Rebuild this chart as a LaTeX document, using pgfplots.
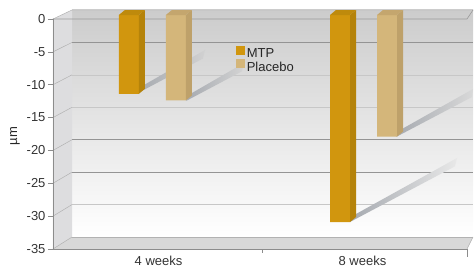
\documentclass[border=0pt]{standalone}
\usepackage{fontspec}
\setmainfont{Liberation Sans}
\usepackage{pgfplots}
\pgfplotsset{compat=1.18}
\definecolor{mtp}{RGB}{209,150,14}
\definecolor{mtpside}{RGB}{181,131,10}
\definecolor{mtptop}{RGB}{190,138,12}
\definecolor{plc}{RGB}{212,182,122}
\definecolor{plcside}{RGB}{190,161,106}
\definecolor{plctop}{RGB}{196,166,110}
\definecolor{sidewall}{RGB}{221,221,223}
\definecolor{floorc}{RGB}{216,216,216}
\definecolor{shad}{RGB}{166,170,176}
\begin{document}
\begin{tikzpicture}
% ---- decorative 3D frame (canvas pt; origin = lower-left of front plot box)
\shade[top color=black!20, bottom color=white] (19pt,12pt) rectangle (420pt,239pt);
\fill[sidewall] (0pt,230pt) -- (19pt,239pt) -- (19pt,12pt) -- (0pt,0pt) -- cycle;
\fill[floorc] (0pt,0pt) -- (19pt,12pt) -- (420pt,12pt) -- (414pt,0pt) -- cycle;
% back grid lines and side diagonals
\foreach \k/\c in {0/22,1/42,2/22,3/22,4/42,5/42,6/22,7/30}{
  \pgfmathsetmacro{\yb}{239-\k*32.43}
  \pgfmathsetmacro{\yf}{230-\k*32.857}
  \draw[black!\c, line width=0.6pt] (19pt,\yb pt) -- (420pt,\yb pt);
  \draw[black!30, line width=0.5pt] (0pt,\yf pt) -- (19pt,\yb pt);
}
\draw[black!40, line width=0.6pt] (0pt,230pt) -- (414pt,230pt) -- (420pt,239pt);
\draw[black!30, line width=0.5pt] (414pt,0pt) -- (420pt,12pt);
\draw[black!45, line width=0.5pt] (209pt,0pt) -- (209pt,-4pt);
\draw[black!45, line width=0.5pt] (414pt,0pt) -- (414pt,-8pt);
% shadows
\shade[left color=shad, right color=black!18] (85pt,156pt) -- (150pt,190.5pt) -- (152pt,199pt) -- (91pt,164pt) -- cycle;
\shade[left color=shad, right color=black!17] (133pt,148pt) -- (189pt,177.7pt) -- (191pt,186pt) -- (139pt,156pt) -- cycle;
\shade[left color=shad, right color=black!9] (297pt,27pt) -- (402pt,82.7pt) -- (404pt,91pt) -- (303pt,35pt) -- cycle;
\shade[left color=shad, right color=black!15] (343pt,112pt) -- (419pt,152pt) -- (420pt,160pt) -- (349pt,120pt) -- cycle;
\begin{axis}[
  at={(0pt,0pt)}, anchor=south west,
  scale only axis, width=414pt, height=230pt,
  xmin=0, xmax=2, ymin=-35, ymax=0,
  clip=false,
  axis x line*=bottom, axis y line*=left,
  axis line style={draw=black!45, line width=0.6pt},
  ytick={-35,-30,...,0},
  xtick={0.51,1.495}, xticklabels={4 weeks, 8 weeks},
  x tick style={draw=none},
  y tick style={draw=black!45, line width=0.6pt},
  tick align=outside, major tick length=5pt,
  /pgf/number format/assume math mode=true,
  tick label style={font=\fontsize{13}{15}\selectfont, text=black!80},
  yticklabel style={xshift=1pt},
  xticklabel style={yshift=1.5pt},
  ylabel={µm},
  ylabel style={at={(axis description cs:-0.092,0.491)}, anchor=center, font=\fontsize{13}{15}\selectfont, text=black!85},
  legend style={at={(axis description cs:0.441,0.885)}, anchor=north west, draw=none, fill=none,
    font=\fontsize{13}{15}\selectfont, text=black!85, inner sep=0pt, row sep=-2pt,
    cells={anchor=west}},
]
% front faces
\addplot[ybar, bar width=20pt, bar shift=-23.5pt, yshift=4pt, fill=mtp, draw=none,
  legend image code/.code={\fill[mtp] (0pt,-4.5pt) rectangle (9pt,4.5pt);}]
  coordinates {(0.48,-12) (1.5,-31.5)};
\addlegendentry{MTP}
\addplot[ybar, bar width=20pt, bar shift=23.5pt, yshift=4pt, fill=plc, draw=none,
  legend image code/.code={\fill[plc] (0pt,-4.5pt) rectangle (9pt,4.5pt);}]
  coordinates {(0.48,-13) (1.5,-18.5)};
\addlegendentry{Placebo}
% side faces
\addplot[forget plot, fill=mtpside, draw=none, xshift=-23.5pt, yshift=4pt]
  coordinates {(0.52831,0) (0.5573,0.7609) (0.5573,-11.2391) (0.52831,-12)} -- cycle;
\addplot[forget plot, fill=mtpside, draw=none, xshift=-23.5pt, yshift=4pt]
  coordinates {(1.54831,0) (1.5773,0.7609) (1.5773,-30.7391) (1.54831,-31.5)} -- cycle;
\addplot[forget plot, fill=plcside, draw=none, xshift=23.5pt, yshift=4pt]
  coordinates {(0.52831,0) (0.5573,0.7609) (0.5573,-12.2391) (0.52831,-13)} -- cycle;
\addplot[forget plot, fill=plcside, draw=none, xshift=23.5pt, yshift=4pt]
  coordinates {(1.54831,0) (1.5773,0.7609) (1.5773,-17.7391) (1.54831,-18.5)} -- cycle;
% top faces
\addplot[forget plot, fill=mtptop, draw=none, xshift=-23.5pt, yshift=4pt]
  coordinates {(0.43169,0) (0.52831,0) (0.5573,0.7609) (0.46068,0.7609)} -- cycle;
\addplot[forget plot, fill=mtptop, draw=none, xshift=-23.5pt, yshift=4pt]
  coordinates {(1.45169,0) (1.54831,0) (1.5773,0.7609) (1.48068,0.7609)} -- cycle;
\addplot[forget plot, fill=plctop, draw=none, xshift=23.5pt, yshift=4pt]
  coordinates {(0.43169,0) (0.52831,0) (0.5573,0.7609) (0.46068,0.7609)} -- cycle;
\addplot[forget plot, fill=plctop, draw=none, xshift=23.5pt, yshift=4pt]
  coordinates {(1.45169,0) (1.54831,0) (1.5773,0.7609) (1.48068,0.7609)} -- cycle;
\end{axis}
\pgfresetboundingbox
\useasboundingbox (-53pt,-19pt) rectangle (421pt,249pt);
\end{tikzpicture}
\end{document}
